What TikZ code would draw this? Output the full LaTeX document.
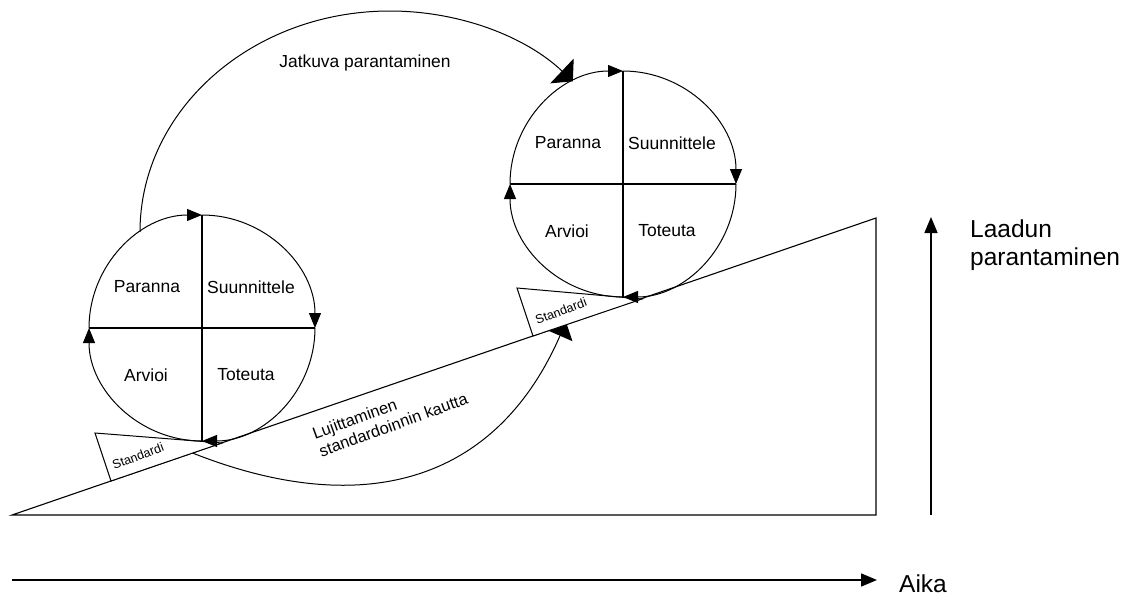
\documentclass[tikz,border=0pt]{standalone}
\usepackage{fontspec}
\setmainfont{Liberation Sans}
\usetikzlibrary{arrows.meta,calc}
\tikzset{
  ln/.style={line width=1.1pt, draw=black},
  cyc/.style={line width=1pt, -{Triangle[length=15pt,width=12pt]}},
  div/.style={line width=1.6pt},
  bigarc/.style={line width=1pt, -{Triangle[length=15pt,width=34pt]}},
  lowarc/.style={line width=1pt, -{Triangle[length=15pt,width=27pt]}},
  axis/.style={line width=1.6pt, -{Triangle[length=16pt,width=13pt]}},
  wedge/.style={line width=1pt, fill=white, draw=black},
  quad/.style={font=\fontsize{17.5}{20}\selectfont, inner sep=0pt},
  stdlbl/.style={font=\fontsize{12.6}{14}\selectfont, inner sep=0pt, rotate=21},
}
\newcommand\pdcacircle[1]{%
  \draw[cyc] ($(#1)+(180:113)$) arc[start angle=180,end angle=270,radius=113];
  \draw[cyc] ($(#1)+(270:113)$) arc[start angle=270,end angle=360,radius=113];
  \draw[cyc] ($(#1)+(0:113)$) arc[start angle=0,end angle=90,radius=113];
  \draw[cyc] ($(#1)+(90:113)$) arc[start angle=90,end angle=180,radius=113];
  \draw[div] ($(#1)+(-113,0)$) -- ($(#1)+(113,0)$);
  \draw[div] ($(#1)+(0,-113)$) -- ($(#1)+(0,113)$);
  \node[quad] (#1-p) at ($(#1)+(-55,-41)$) {Paranna};
  \node[quad] (#1-s) at ($(#1)+(49,-41)$) {Suunnittele};
  \node[quad] (#1-a) at ($(#1)+(-56,47)$) {Arvioi};
  \node[quad] (#1-t) at ($(#1)+(44,47)$) {Toteuta};
}
\begin{document}
\begin{tikzpicture}[x=1pt,y=-1pt]
\useasboundingbox (0,0) rectangle (1141,597);
% ramp
\coordinate (r0) at (12,515);
\coordinate (r1) at (876,515);
\coordinate (r2) at (876,218);
\draw[ln] (r0) -- (r1) -- (r2) -- cycle;
% lower arc
\coordinate (la0) at (190,452);
\coordinate (la1) at (566,322);
\draw[lowarc] (la0) .. controls (357,519) and (494,487) .. (la1);
% wedges
\coordinate (w1a) at (95,433);
\coordinate (w1b) at (111,481);
\coordinate (w1c) at (222,443);
\draw[wedge] (w1a) -- (w1b) -- (w1c) -- cycle;
\coordinate (w2a) at (517,288);
\coordinate (w2b) at (533,336);
\coordinate (w2c) at (642,299);
\draw[wedge] (w2a) -- (w2b) -- (w2c) -- cycle;
\node[stdlbl] (std1) at (138,456) {Standardi};
\node[stdlbl] (std2) at (561,311) {Standardi};
% circles
\coordinate (c1) at (202,328);
\coordinate (c2) at (623,184);
\pdcacircle{c1}
\pdcacircle{c2}
% big arc
\coordinate (ba0) at (140,232);
\draw[bigarc] (ba0) arc[start angle=180,end angle=317,x radius=250,y radius=221];
\node[font=\fontsize{17.4}{20}\selectfont, inner sep=0pt] (jp) at (365,63) {Jatkuva parantaminen};
\node[font=\fontsize{16.4}{19}\selectfont, inner sep=0pt, align=left, rotate=20] (lsk) at (390,416) {Lujittaminen\\standardoinnin kautta};
% axes
\coordinate (h0) at (12,580);
\coordinate (h1) at (877,580);
\draw[axis] (h0) -- (h1);
\node[font=\fontsize{24.5}{28}\selectfont, inner sep=0pt, anchor=west] (aika) at (899,584) {Aika};
\coordinate (v0) at (931,515);
\coordinate (v1) at (931,217);
\draw[axis] (v0) -- (v1);
\node[font=\fontsize{24.5}{28}\selectfont, inner sep=0pt, anchor=west, align=left] (lp) at (970,245) {Laadun\\parantaminen};
\end{tikzpicture}
\end{document}
